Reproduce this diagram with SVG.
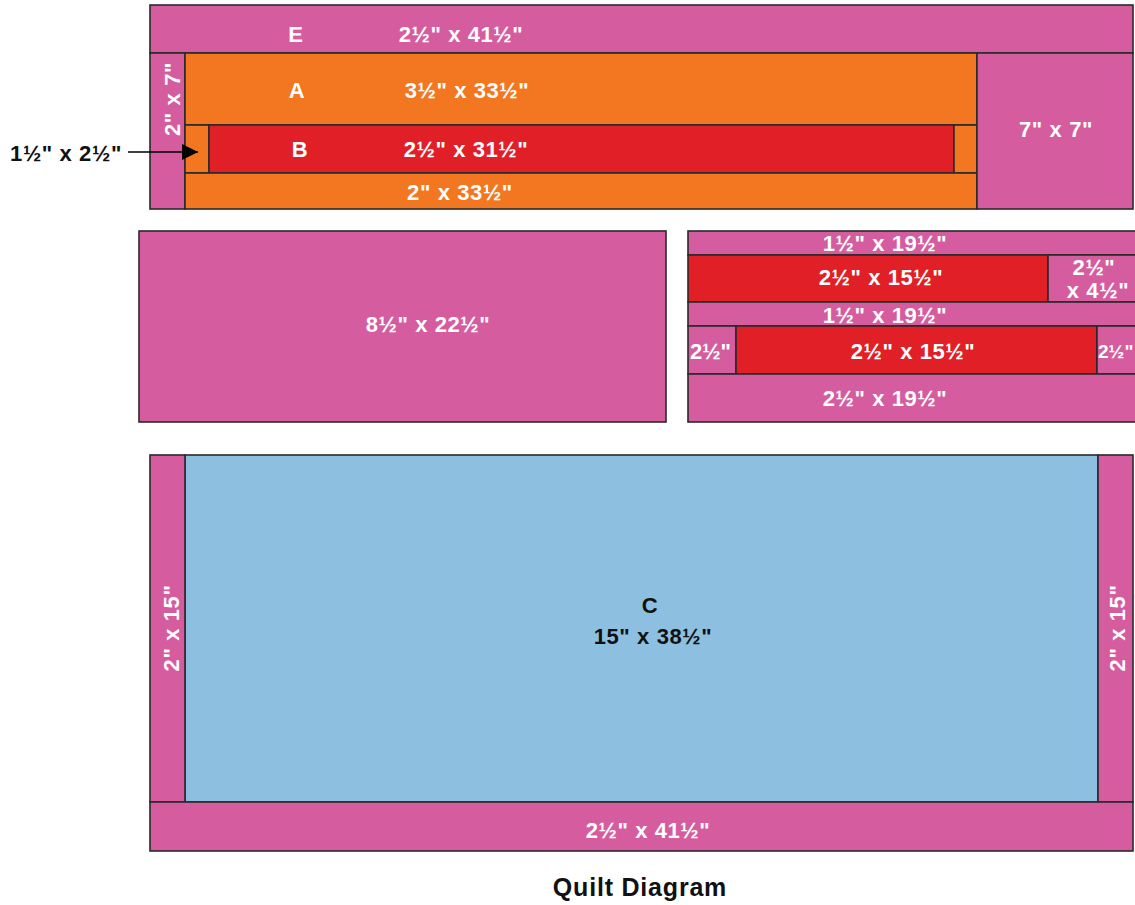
<svg xmlns="http://www.w3.org/2000/svg" width="1135" height="905" viewBox="0 0 1135 905">
<style>
.p{fill:#D55C9F;stroke:#2a2a2a;stroke-width:1.6}
.o{fill:#F37721;stroke:#2a2a2a;stroke-width:1.6}
.r{fill:#E01F27;stroke:#2a2a2a;stroke-width:1.6}
.b{fill:#8DC0E0;stroke:#2a2a2a;stroke-width:1.6}
text{font-family:"Liberation Sans",Arial,sans-serif;font-weight:bold;font-size:22px;letter-spacing:0.6px;fill:#fff;text-anchor:middle;dominant-baseline:central}
.k{fill:#111}
</style>
<defs>
<marker id="ah" viewBox="0 0 10 10" refX="10" refY="5" markerWidth="16" markerHeight="20" markerUnits="userSpaceOnUse" orient="auto">
<path d="M0,0 L10,5 L0,10 Z" fill="#000"/>
</marker>
</defs>
<rect width="1135" height="905" fill="#fff"/>
<g id="top">
<g id="E"><rect class="p" x="150" y="5" width="983" height="48"/><text x="296" y="34">E</text><text x="461" y="34">2½" x 41½"</text></g>
<g id="left27"><rect class="p" x="150" y="53" width="35" height="156"/><text transform="translate(172,99) rotate(-90)">2" x 7"</text></g>
<g id="A"><rect class="o" x="185" y="53" width="792" height="72"/><text x="297" y="90">A</text><text x="467" y="90">3½" x 33½"</text></g>
<g id="Bl"><rect class="o" x="185" y="125" width="24" height="48"/></g>
<g id="B"><rect class="r" x="209" y="125" width="745" height="48"/><text x="300" y="149">B</text><text x="466" y="149">2½" x 31½"</text></g>
<g id="Br"><rect class="o" x="954" y="125" width="23" height="48"/></g>
<g id="Abot"><rect class="o" x="185" y="173" width="792" height="36"/><text x="460" y="192">2" x  33½"</text></g>
<g id="sq77"><rect class="p" x="977" y="53" width="156" height="156"/><text x="1056" y="129">7" x  7"</text></g>
</g>
<g id="mid-left"><rect class="p" x="139" y="231" width="527" height="191"/><text x="428" y="324">8½" x 22½"</text></g>
<g id="mid-right">
<g id="m1"><rect class="p" x="688" y="231" width="450" height="24"/><text x="885" y="243">1½" x 19½"</text></g>
<g id="m2"><rect class="r" x="688" y="255" width="360" height="47"/><text x="881" y="277">2½" x 15½"</text></g>
<g id="m3"><rect class="p" x="1048" y="255" width="90" height="47"/><text x="1094" y="267">2½"</text><text x="1098" y="290">x 4½"</text></g>
<g id="m4"><rect class="p" x="688" y="302" width="450" height="24"/><text x="885" y="315">1½" x 19½"</text></g>
<g id="m5"><rect class="p" x="688" y="326" width="48" height="48"/><text x="690" y="351" style="text-anchor:start;letter-spacing:0">2½"</text></g>
<g id="m6"><rect class="r" x="736" y="326" width="361" height="48"/><text x="913" y="351">2½" x 15½"</text></g>
<g id="m7"><rect class="p" x="1097" y="326" width="41" height="48"/><text x="1098" y="351" style="text-anchor:start;letter-spacing:0;font-size:19px">2½"</text></g>
<g id="m8"><rect class="p" x="688" y="374" width="450" height="48"/><text x="885" y="398">2½" x 19½"</text></g>
</g>
<g id="bottom">
<g id="C"><rect class="b" x="185" y="455" width="913" height="347"/><text class="k" x="650" y="605">C</text><text class="k" x="653" y="636">15" x 38½"</text></g>
<g id="bl"><rect class="p" x="150" y="455" width="35" height="347"/><text transform="translate(171,628) rotate(-90)">2" x 15"</text></g>
<g id="br"><rect class="p" x="1098" y="455" width="35" height="347"/><text transform="translate(1117,628) rotate(-90)">2" x 15"</text></g>
<g id="bb"><rect class="p" x="150" y="802" width="983" height="49"/><text x="648" y="830">2½" x 41½"</text></g>
</g>
<g id="callout"><text class="k" x="66" y="153">1½" x 2½"</text></g>
<g id="connectors"><line x1="128" y1="152" x2="198" y2="152" stroke="#000" stroke-width="1.6" marker-end="url(#ah)"/></g>
<text class="k" x="640" y="887" style="font-size:25px;letter-spacing:0.8px">Quilt Diagram</text>
</svg>
